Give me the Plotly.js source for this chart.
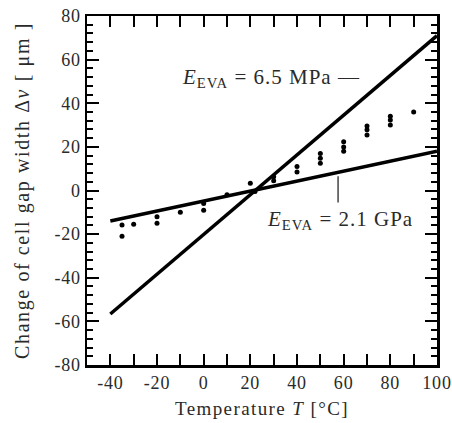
<!DOCTYPE html>
<html>
<head>
<meta charset="utf-8">
<script src="https://cdn.plot.ly/plotly-3.0.1.min.js"></script>
<style>
body{margin:0;background:#fff;}
#plot{width:452px;height:423px;}
#plot .ytitle{letter-spacing:1.6px;}
#plot .xtitle{letter-spacing:1.4px;}
#plot .annotation-text{letter-spacing:1px;}
#plot .xtick text, #plot .ytick text{letter-spacing:0.8px;}
</style>
</head>
<body>
<div id="plot"></div>
<script>
// Measured cell gap change (points)
const measT = [-35, -35, -30, -20, -20, -10, 0, 0, 10, 20, 22, 30, 30, 40, 40, 50, 50, 50, 60, 60, 60, 70, 70, 70, 80, 80, 80, 90];
const measV = [-15.8, -21, -15.5, -15, -12, -10, -9, -6, -2, 3.3, -0.5, 6.3, 4.5, 11, 8.5, 17, 14.8, 12.5, 22.4, 20, 18, 29.6, 27.8, 25.4, 34, 32.3, 30, 36];
// Model lines
const lineT = [-40, 100];
const mpaV = [-56.6, 71];   // E_EVA = 6.5 MPa
const gpaV = [-14, 18];     // E_EVA = 2.1 GPa
// Tick labels
const xTickVals = [-40, -20, 0, 20, 40, 60, 80, 100];
const xTickText = ['-40', '-20', '0', '20', '40', '60', '80', '100'];
const yTickVals = [-80, -60, -40, -20, 0, 20, 40, 60, 80];
const yTickText = ['-80', '-60', '-40', '-20', '0', '20', '40', '60', '80'];

const serif = 'Liberation Serif, DejaVu Serif, serif';
const txt = '#2a2a2a';

const traces = [
  {x: lineT, y: mpaV, mode: 'lines', line: {color: '#000', width: 3.5}, hoverinfo: 'skip'},
  {x: lineT, y: gpaV, mode: 'lines', line: {color: '#000', width: 3.5}, hoverinfo: 'skip'},
  {x: measT, y: measV, mode: 'markers', marker: {color: '#000', size: 5}}
];

const layout = {
  width: 452, height: 423,
  margin: {l: 87, r: 15, t: 16, b: 58},
  paper_bgcolor: '#fff', plot_bgcolor: '#fff',
  showlegend: false,
  font: {family: serif, color: txt, size: 18},
  xaxis: {
    range: [-50, 100], tickmode: 'array', tickvals: xTickVals, ticktext: xTickText,
    ticks: 'inside', ticklen: 11, tickwidth: 2, tickcolor: '#000',
    minor: {dtick: 10, tick0: 0, ticks: 'inside', ticklen: 11, tickwidth: 2, tickcolor: '#000'},
    showline: true, linecolor: '#000', linewidth: 2.5, mirror: 'ticks',
    showgrid: false, zeroline: false,
    tickfont: {family: serif, size: 18, color: txt},
    title: {text: 'Temperature <i>T</i> [°C]', font: {family: serif, size: 19, color: txt}, standoff: 10}
  },
  yaxis: {
    range: [-80, 80], tickmode: 'array', tickvals: yTickVals, ticktext: yTickText,
    ticks: 'inside', ticklen: 12, tickwidth: 2, tickcolor: '#000',
    minor: {dtick: 4, tick0: 0, ticks: 'inside', ticklen: 6, tickwidth: 2, tickcolor: '#000'},
    showline: true, linecolor: '#000', linewidth: 2.5, mirror: 'ticks',
    showgrid: false, zeroline: false,
    tickfont: {family: serif, size: 18, color: txt},
    title: {text: 'Change of cell gap width Δ<i>v</i> [ μm ]', font: {family: serif, size: 20, color: txt}, standoff: 22}
  },
  annotations: [
    {xref: 'paper', yref: 'paper', x: 0.527, y: 0.822, xanchor: 'center', yanchor: 'middle', showarrow: false,
     text: '<i>E</i><sub>EVA</sub> = 6.5 MPa —', font: {family: serif, size: 21, color: txt}},
    {xref: 'paper', yref: 'paper', x: 0.723, y: 0.415, xanchor: 'center', yanchor: 'middle', showarrow: false,
     text: '<i>E</i><sub>EVA</sub> = 2.1 GPa', font: {family: serif, size: 21, color: txt}}
  ],
  shapes: [
    {type: 'line', xref: 'x', yref: 'y', x0: 57.6, x1: 57.6, y0: 6.5, y1: -5.5, line: {color: '#444', width: 1.5}}
  ]
};

Plotly.newPlot('plot', traces, layout, {displayModeBar: false, staticPlot: true});
</script>
</body>
</html>
